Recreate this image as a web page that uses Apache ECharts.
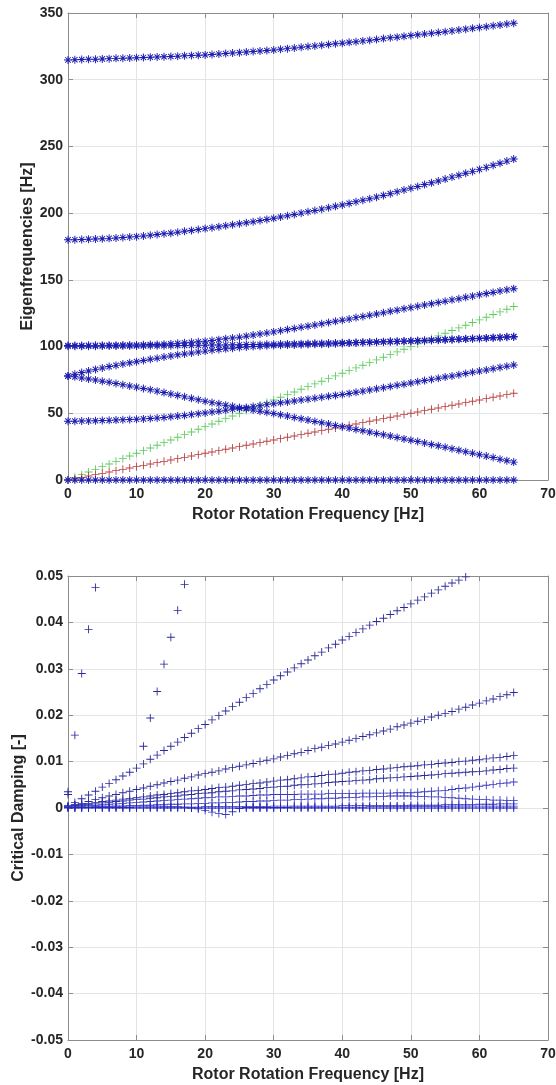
<!DOCTYPE html>
<html>
<head>
<meta charset="utf-8">
<script src="https://cdn.jsdelivr.net/npm/echarts@6/dist/echarts.min.js"></script>
<style>
  html, body { margin: 0; padding: 0; background: #fff; }
  #chart { width: 556px; height: 1085px; }
</style>
</head>
<body>
<div id="chart"></div>
<script>
// rotor rotation frequency [Hz], one sample per Hz
const freq = [0,1,2,3,4,5,6,7,8,9,10,11,12,13,14,15,16,17,18,19,20,21,22,23,24,25,26,27,28,29,30,31,32,33,34,35,36,37,38,39,40,41,42,43,44,45,46,47,48,49,50,51,52,53,54,55,56,57,58,59,60,61,62,63,64,65];

// --- eigenfrequencies [Hz] ---
const eigMode8 = [314.8,315.0,315.1,315.3,315.4,315.6,315.8,316.0,316.1,316.3,316.5,316.7,316.9,317.0,317.2,317.4,317.6,317.9,318.1,318.4,318.6,318.9,319.3,319.6,320.0,320.3,320.7,321.1,321.5,321.9,322.3,322.8,323.3,323.8,324.3,324.8,325.3,325.8,326.4,326.9,327.4,328.0,328.5,329.1,329.6,330.2,330.8,331.4,331.9,332.5,333.1,333.7,334.3,334.8,335.4,336.0,336.6,337.2,337.9,338.5,339.1,339.7,340.4,341.0,341.7,342.3];
const eigMode7 = [180.0,180.1,180.3,180.5,180.6,180.8,181.1,181.4,181.8,182.1,182.4,182.9,183.4,184.0,184.5,185.0,185.7,186.4,187.0,187.7,188.4,189.1,189.8,190.6,191.3,192.0,192.8,193.6,194.5,195.3,196.1,197.1,198.1,199.0,200.0,201.0,202.0,203.0,204.1,205.1,206.1,207.3,208.5,209.6,210.8,212.0,213.3,214.6,216.0,217.3,218.6,220.0,221.4,222.7,224.1,225.5,227.0,228.4,229.9,231.3,232.8,234.3,235.9,237.4,239.0,240.5];
const eigMode6 = [100.8,100.8,100.8,100.9,100.9,100.9,101.0,101.0,101.1,101.1,101.2,101.3,101.5,101.6,101.8,102.0,102.4,102.8,103.2,103.6,104.0,104.6,105.2,105.8,106.4,107.0,107.8,108.6,109.4,110.2,111.0,111.9,112.8,113.6,114.5,115.3,116.2,117.1,118.0,118.9,119.8,120.7,121.7,122.6,123.5,124.4,125.4,126.4,127.3,128.3,129.2,130.2,131.1,132.1,133.0,134.0,135.0,135.9,136.9,137.8,138.8,139.7,140.6,141.6,142.5,143.4];
const eigMode5 = [100.2,100.2,100.3,100.3,100.3,100.4,100.4,100.4,100.4,100.5,100.5,100.5,100.6,100.6,100.7,100.7,100.8,100.8,100.9,100.9,101.0,101.1,101.2,101.2,101.3,101.4,101.5,101.6,101.6,101.7,101.8,101.9,102.0,102.1,102.2,102.3,102.4,102.5,102.6,102.7,102.8,102.9,103.1,103.3,103.4,103.6,103.7,103.9,104.0,104.2,104.3,104.5,104.7,104.9,105.1,105.3,105.5,105.7,105.9,106.1,106.3,106.5,106.8,107.0,107.3,107.5];
const eigMode4 = [78.0,79.3,80.5,81.7,82.9,84.0,85.0,85.9,86.9,87.8,88.7,89.6,90.5,91.3,92.2,93.0,93.8,94.5,95.2,95.9,96.6,97.2,97.8,98.3,98.8,99.3,99.7,100.0,100.3,100.6,100.8,101.0,101.1,101.2,101.4,101.5,101.7,101.8,102.0,102.1,102.3,102.6,102.8,103.0,103.1,103.3,103.4,103.6,103.7,103.9,104.0,104.2,104.4,104.6,104.8,105.0,105.2,105.4,105.6,105.8,106.0,106.2,106.5,106.7,107.0,107.2];
const eigMode3 = [78.0,77.3,76.5,75.7,74.9,74.0,73.2,72.3,71.4,70.5,69.6,68.6,67.6,66.6,65.5,64.5,63.4,62.3,61.2,60.1,59.0,58.0,57.1,56.1,55.2,54.3,53.4,52.5,51.6,50.8,49.9,48.9,47.9,46.9,45.9,44.9,43.9,42.9,41.9,40.9,39.9,38.9,37.9,36.9,35.9,34.9,33.9,32.9,31.9,30.8,29.8,28.8,27.7,26.6,25.6,24.5,23.4,22.3,21.2,20.1,19.0,17.9,16.8,15.6,14.5,13.4];
const eigMode2 = [44.1,44.1,44.2,44.3,44.4,44.6,44.7,44.9,45.1,45.3,45.5,45.8,46.1,46.5,46.9,47.4,47.9,48.4,49.0,49.6,50.2,50.9,51.6,52.3,53.0,53.6,54.3,55.0,55.7,56.5,57.2,57.9,58.5,59.2,59.9,60.6,61.3,62.0,62.7,63.4,64.1,64.9,65.7,66.6,67.4,68.3,69.2,70.1,71.0,71.8,72.7,73.6,74.5,75.4,76.3,77.2,78.0,78.9,79.8,80.7,81.6,82.5,83.4,84.4,85.3,86.2];
const eigMode1 = [0,0,0,0,0,0,0,0,0,0,0,0,0,0,0,0,0,0,0,0,0,0,0,0,0,0,0,0,0,0,0,0,0,0,0,0,0,0,0,0,0,0,0,0,0,0,0,0,0,0,0,0,0,0,0,0,0,0,0,0,0,0,0,0,0,0];
const excite1x = [0,1,2,3,4,5,6,7,8,9,10,11,12,13,14,15,16,17,18,19,20,21,22,23,24,25,26,27,28,29,30,31,32,33,34,35,36,37,38,39,40,41,42,43,44,45,46,47,48,49,50,51,52,53,54,55,56,57,58,59,60,61,62,63,64,65];
const excite2x = [0,2,4,6,8,10,12,14,16,18,20,22,24,26,28,30,32,34,36,38,40,42,44,46,48,50,52,54,56,58,60,62,64,66,68,70,72,74,76,78,80,82,84,86,88,90,92,94,96,98,100,102,104,106,108,110,112,114,116,118,120,122,124,126,128,130];

// --- critical damping [-] (null = outside the plotted range) ---
const dampA = [0.0035,0.0157,0.0290,0.0385,0.0475,null,null,null,null,null,null,0.0133,0.0194,0.0251,0.0310,0.0368,0.0426,0.0482,null,null,null,null,null,null,null,null,null,null,null,null,null,null,null,null,null,null,null,null,null,null,null,null,null,null,null,null,null,null,null,null,null,null,null,null,null,null,null,null,null,null,null,null,null,null,null,null];
const dampB = [0.0005,0.0012,0.0020,0.0028,0.0036,0.0045,0.0053,0.0061,0.0069,0.0077,0.0086,0.0095,0.0105,0.0114,0.0124,0.0133,0.0142,0.0152,0.0161,0.0171,0.0180,0.0190,0.0199,0.0209,0.0219,0.0228,0.0238,0.0247,0.0257,0.0266,0.0276,0.0285,0.0293,0.0302,0.0311,0.0319,0.0328,0.0336,0.0345,0.0353,0.0362,0.0370,0.0378,0.0386,0.0394,0.0402,0.0409,0.0417,0.0425,0.0432,0.0440,0.0448,0.0455,0.0463,0.0470,0.0478,0.0485,0.0491,0.0498,null,null,null,null,null,null,null];
const dampC = [0.0002,0.0006,0.0010,0.0014,0.0018,0.0022,0.0026,0.0029,0.0033,0.0036,0.0040,0.0043,0.0047,0.0050,0.0054,0.0057,0.0060,0.0064,0.0067,0.0071,0.0074,0.0077,0.0080,0.0084,0.0087,0.0090,0.0093,0.0096,0.0100,0.0103,0.0106,0.0110,0.0113,0.0117,0.0120,0.0124,0.0128,0.0131,0.0135,0.0138,0.0142,0.0146,0.0150,0.0154,0.0158,0.0162,0.0166,0.0170,0.0175,0.0179,0.0183,0.0187,0.0191,0.0196,0.0200,0.0204,0.0208,0.0213,0.0217,0.0222,0.0226,0.0231,0.0235,0.0240,0.0244,0.0249];
const dampD = [0.0029,0.0007,0.0008,0.0010,0.0012,0.0014,0.0015,0.0017,0.0019,0.0020,0.0022,0.0024,0.0026,0.0028,0.0029,0.0031,0.0033,0.0035,0.0037,0.0038,0.0040,0.0042,0.0044,0.0045,0.0047,0.0049,0.0051,0.0053,0.0054,0.0056,0.0058,0.0060,0.0061,0.0063,0.0065,0.0067,0.0068,0.0070,0.0072,0.0073,0.0075,0.0077,0.0078,0.0080,0.0081,0.0083,0.0084,0.0086,0.0087,0.0089,0.0090,0.0091,0.0093,0.0094,0.0096,0.0097,0.0098,0.0100,0.0101,0.0103,0.0104,0.0106,0.0108,0.0109,0.0111,0.0113];
const dampE = [0.0003,0.0005,0.0006,0.0008,0.0009,0.0011,0.0012,0.0014,0.0015,0.0017,0.0018,0.0019,0.0021,0.0022,0.0024,0.0025,0.0026,0.0028,0.0029,0.0031,0.0032,0.0033,0.0035,0.0036,0.0037,0.0039,0.0040,0.0041,0.0042,0.0044,0.0045,0.0046,0.0047,0.0049,0.0050,0.0051,0.0052,0.0053,0.0055,0.0056,0.0057,0.0058,0.0059,0.0060,0.0061,0.0063,0.0064,0.0065,0.0066,0.0067,0.0068,0.0069,0.0070,0.0071,0.0072,0.0074,0.0075,0.0076,0.0077,0.0078,0.0079,0.0080,0.0082,0.0083,0.0085,0.0086];
const dampF = [0.0002,0.0003,0.0004,0.0005,0.0006,0.0007,0.0008,0.0009,0.0010,0.0011,0.0012,0.0013,0.0014,0.0015,0.0016,0.0017,0.0018,0.0019,0.0020,0.0021,0.0022,0.0023,0.0024,0.0024,0.0025,0.0026,0.0026,0.0027,0.0028,0.0028,0.0029,0.0029,0.0029,0.0029,0.0030,0.0030,0.0030,0.0030,0.0031,0.0031,0.0031,0.0031,0.0031,0.0032,0.0032,0.0032,0.0032,0.0032,0.0033,0.0033,0.0033,0.0034,0.0035,0.0036,0.0037,0.0038,0.0040,0.0042,0.0043,0.0045,0.0047,0.0049,0.0051,0.0053,0.0054,0.0056];
const dampG = [0.0001,0.0001,0.0002,0.0002,0.0003,0.0003,0.0003,0.0004,0.0004,0.0005,0.0005,0.0006,0.0006,0.0007,0.0007,0.0008,0.0008,0.0009,0.0009,0.0010,0.0010,0.0011,0.0011,0.0012,0.0012,0.0013,0.0014,0.0014,0.0015,0.0015,0.0016,0.0017,0.0017,0.0018,0.0018,0.0019,0.0020,0.0020,0.0021,0.0021,0.0022,0.0023,0.0023,0.0024,0.0024,0.0025,0.0025,0.0026,0.0026,0.0026,0.0026,0.0025,0.0025,0.0024,0.0024,0.0023,0.0022,0.0021,0.0020,0.0019,0.0018,0.0018,0.0017,0.0017,0.0016,0.0016];
const dampH = [0.0001,0.0001,0.0001,0.0001,0.0001,0.0001,0.0001,0.0001,0.0001,0.0001,0.0002,0.0002,0.0002,0.0002,0.0002,0.0002,0.0002,0.0002,0.0002,0.0002,0.0003,0.0003,0.0003,0.0003,0.0003,0.0003,0.0003,0.0003,0.0003,0.0003,0.0004,0.0004,0.0004,0.0004,0.0004,0.0004,0.0004,0.0004,0.0004,0.0004,0.0005,0.0005,0.0005,0.0005,0.0005,0.0005,0.0005,0.0005,0.0005,0.0005,0.0006,0.0006,0.0006,0.0006,0.0006,0.0007,0.0007,0.0007,0.0007,0.0007,0.0008,0.0008,0.0008,0.0009,0.0009,0.0009];
const dampI = [0.0004,0.0004,0.0004,0.0004,0.0004,0.0004,0.0004,0.0004,0.0004,0.0004,0.0004,0.0004,0.0004,0.0004,0.0003,0.0003,0.0003,0.0002,0.0000,-0.0002,-0.0005,-0.0009,-0.0012,-0.0014,-0.0008,-0.0001,0.0001,0.0001,0.0001,0.0001,0.0001,0.0001,0.0001,0.0002,0.0002,0.0002,0.0002,0.0002,0.0002,0.0002,0.0002,0.0002,0.0002,0.0002,0.0003,0.0003,0.0003,0.0003,0.0003,0.0003,0.0003,0.0003,0.0003,0.0003,0.0003,0.0003,0.0004,0.0004,0.0004,0.0004,0.0004,0.0004,0.0004,0.0004,0.0004,0.0004];
const dampJ = [0,0,0,0,0,0,0,0,0,0,0,0,0,0,0,0,0,0,0,0,0,0,0,0,0,0,0,0,0,0,0,0,0,0,0,0,0,0,0,0,0,0,0,0,0,0,0,0,0,0,0,0,0,0,0,0,0,0,0,0,0,0,0,0,0,0];

const PLUS = 'path://M0,4.45H10V5.55H0Z M4.45,0H5.55V10H4.45Z';
const STAR = 'path://M0,4.4H10V5.6H0Z M4.4,0H5.6V10H4.4Z M1.2,2.05L2.05,1.2L8.8,7.95L7.95,8.8Z M7.95,1.2L8.8,2.05L2.05,8.8L1.2,7.95Z';

const FONT = '"Liberation Sans", Arial, Helvetica, sans-serif';
const TXT = '#262626';
const FRAME = '#8c8c8c';
const GRIDLINE = '#e4e4e4';

function pts(vals) {
  return freq.map((f, i) => [f, vals[i]]).filter(p => p[1] !== null);
}

function mark(vals, symbol, color, gi, size) {
  return {
    type: 'scatter',
    xAxisIndex: gi * 2,
    yAxisIndex: gi * 2,
    data: pts(vals),
    symbol: symbol,
    symbolSize: size || 8,
    itemStyle: { color: color, opacity: 1 },
    silent: true,
    clip: true
  };
}

function xAxes(gi) {
  const base = {
    gridIndex: gi, type: 'value', min: 0, max: 70, interval: 10,
    axisLine: { show: true, onZero: false, lineStyle: { color: FRAME, width: 1 } },
    axisTick: { show: true, inside: true, length: 5, lineStyle: { color: FRAME } }
  };
  return [
    Object.assign({}, base, {
      position: 'bottom',
      name: 'Rotor Rotation Frequency [Hz]',
      nameLocation: 'middle',
      nameGap: 27,
      nameTextStyle: { color: TXT, fontSize: 16, fontWeight: 'bold', fontFamily: FONT },
      axisLabel: { color: TXT, fontSize: 14, fontWeight: 'bold', fontFamily: FONT, margin: 7 },
      splitLine: { show: true, lineStyle: { color: GRIDLINE, width: 1 } }
    }),
    Object.assign({}, base, {
      position: 'top',
      axisLabel: { show: false },
      splitLine: { show: false }
    })
  ];
}

function yAxes(gi, min, max, interval, name, gap, fmt) {
  const base = {
    gridIndex: gi, type: 'value', min: min, max: max, interval: interval,
    axisLine: { show: true, onZero: false, lineStyle: { color: FRAME, width: 1 } },
    axisTick: { show: true, inside: true, length: 5, lineStyle: { color: FRAME } }
  };
  return [
    Object.assign({}, base, {
      position: 'left',
      name: name,
      nameLocation: 'middle',
      nameGap: gap,
      nameMoveOverlap: false,
      nameTextStyle: { color: TXT, fontSize: 16, fontWeight: 'bold', fontFamily: FONT },
      axisLabel: { color: TXT, fontSize: 14, fontWeight: 'bold', fontFamily: FONT, margin: 5, formatter: fmt },
      splitLine: { show: true, lineStyle: { color: GRIDLINE, width: 1 } }
    }),
    Object.assign({}, base, {
      position: 'right',
      axisLabel: { show: false },
      splitLine: { show: false }
    })
  ];
}

const BLUE = '#1c1cb0';
const DBLUE = '#2a2a9a';

const chart = echarts.init(document.getElementById('chart'), null, { renderer: 'canvas' });

chart.setOption({
  animation: false,
  backgroundColor: '#ffffff',
  grid: [
    { left: 68, top: 13, width: 480, height: 467, outerBoundsMode: 'none', containLabel: false },
    { left: 68, top: 576, width: 480, height: 464, outerBoundsMode: 'none', containLabel: false }
  ],
  xAxis: xAxes(0).concat(xAxes(1)),
  yAxis: yAxes(0, 0, 350, 50, 'Eigenfrequencies [Hz]', 32, v => String(v))
    .concat(yAxes(1, -0.05, 0.05, 0.01, 'Critical Damping [-]', 41,
      v => Math.abs(v) < 1e-9 ? '0' : v.toFixed(2))),
  series: [
    mark(excite2x, PLUS, '#5ccc5c', 0),
    mark(excite1x, PLUS, '#b84040', 0),
    mark(eigMode1, STAR, BLUE, 0),
    mark(eigMode2, STAR, BLUE, 0),
    mark(eigMode3, STAR, BLUE, 0),
    mark(eigMode4, STAR, BLUE, 0),
    mark(eigMode5, STAR, BLUE, 0),
    mark(eigMode6, STAR, BLUE, 0),
    mark(eigMode7, STAR, BLUE, 0),
    mark(eigMode8, STAR, BLUE, 0),
    mark(dampA, PLUS, DBLUE, 1),
    mark(dampB, PLUS, DBLUE, 1),
    mark(dampC, PLUS, DBLUE, 1),
    mark(dampD, PLUS, DBLUE, 1),
    mark(dampE, PLUS, DBLUE, 1),
    mark(dampF, PLUS, '#3a3ac0', 1),
    mark(dampG, PLUS, '#3a3ac0', 1),
    mark(dampH, PLUS, '#3a3ac0', 1),
    mark(dampI, PLUS, '#3a3ac0', 1),
    mark(dampJ, PLUS, '#2020c0', 1)
  ]
});
</script>
</body>
</html>
